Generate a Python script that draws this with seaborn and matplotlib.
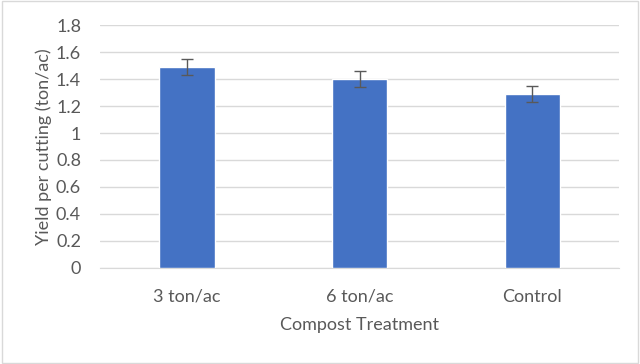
import numpy as np
import pandas as pd
import matplotlib
matplotlib.use("Agg")
import matplotlib.pyplot as plt
import seaborn as sns

treatments = ["3 ton/ac", "6 ton/ac", "Control"]
yields = [1.49, 1.40, 1.29]
errors = [0.06, 0.06, 0.06]

df = pd.DataFrame({"treatment": treatments, "yield": yields})

sns.set_style("white")
plt.rcParams["font.family"] = ["Lato", "DejaVu Sans"]

fig = plt.figure(figsize=(6.4, 3.64), dpi=100)
ax = fig.add_axes([0.157, 0.264, 0.81, 0.667])

sns.barplot(data=df, x="treatment", y="yield", color="#4472C4", saturation=1,
            width=0.32, errorbar=None, ax=ax, zorder=3)

xs = [p.get_x() + p.get_width() / 2 for p in ax.patches]
ax.errorbar(xs, yields, yerr=errors, fmt="none", ecolor="#595959",
            elinewidth=1, capsize=4, capthick=1, zorder=4)

ax.set_ylim(0, 1.8)
ax.set_yticks(np.arange(0, 1.81, 0.2))
ax.set_yticklabels(["0", "0.2", "0.4", "0.6", "0.8", "1", "1.2", "1.4", "1.6", "1.8"])
ax.set_xlim(-0.5, 2.5)
ax.yaxis.grid(True, color="#D9D9D9", linewidth=1, zorder=0)
ax.set_axisbelow(True)
for s in ["top", "right", "left"]:
    ax.spines[s].set_visible(False)
ax.spines["bottom"].set_color("#D9D9D9")
ax.tick_params(axis="y", length=0, labelsize=13, colors="#595959", pad=14)
ax.tick_params(axis="x", length=0, labelsize=13, colors="#595959", pad=15)

ax.set_xlabel("Compost Treatment", fontsize=13, color="#595959", labelpad=9)
ax.set_ylabel("Yield per cutting (ton/ac)", fontsize=13, color="#595959", labelpad=3)

fig.patches.append(plt.Rectangle((0.003, 0.004), 0.994, 0.992, transform=fig.transFigure,
                                 fill=False, edgecolor="#D9D9D9", linewidth=1))

fig.savefig("out.png", dpi=100)
